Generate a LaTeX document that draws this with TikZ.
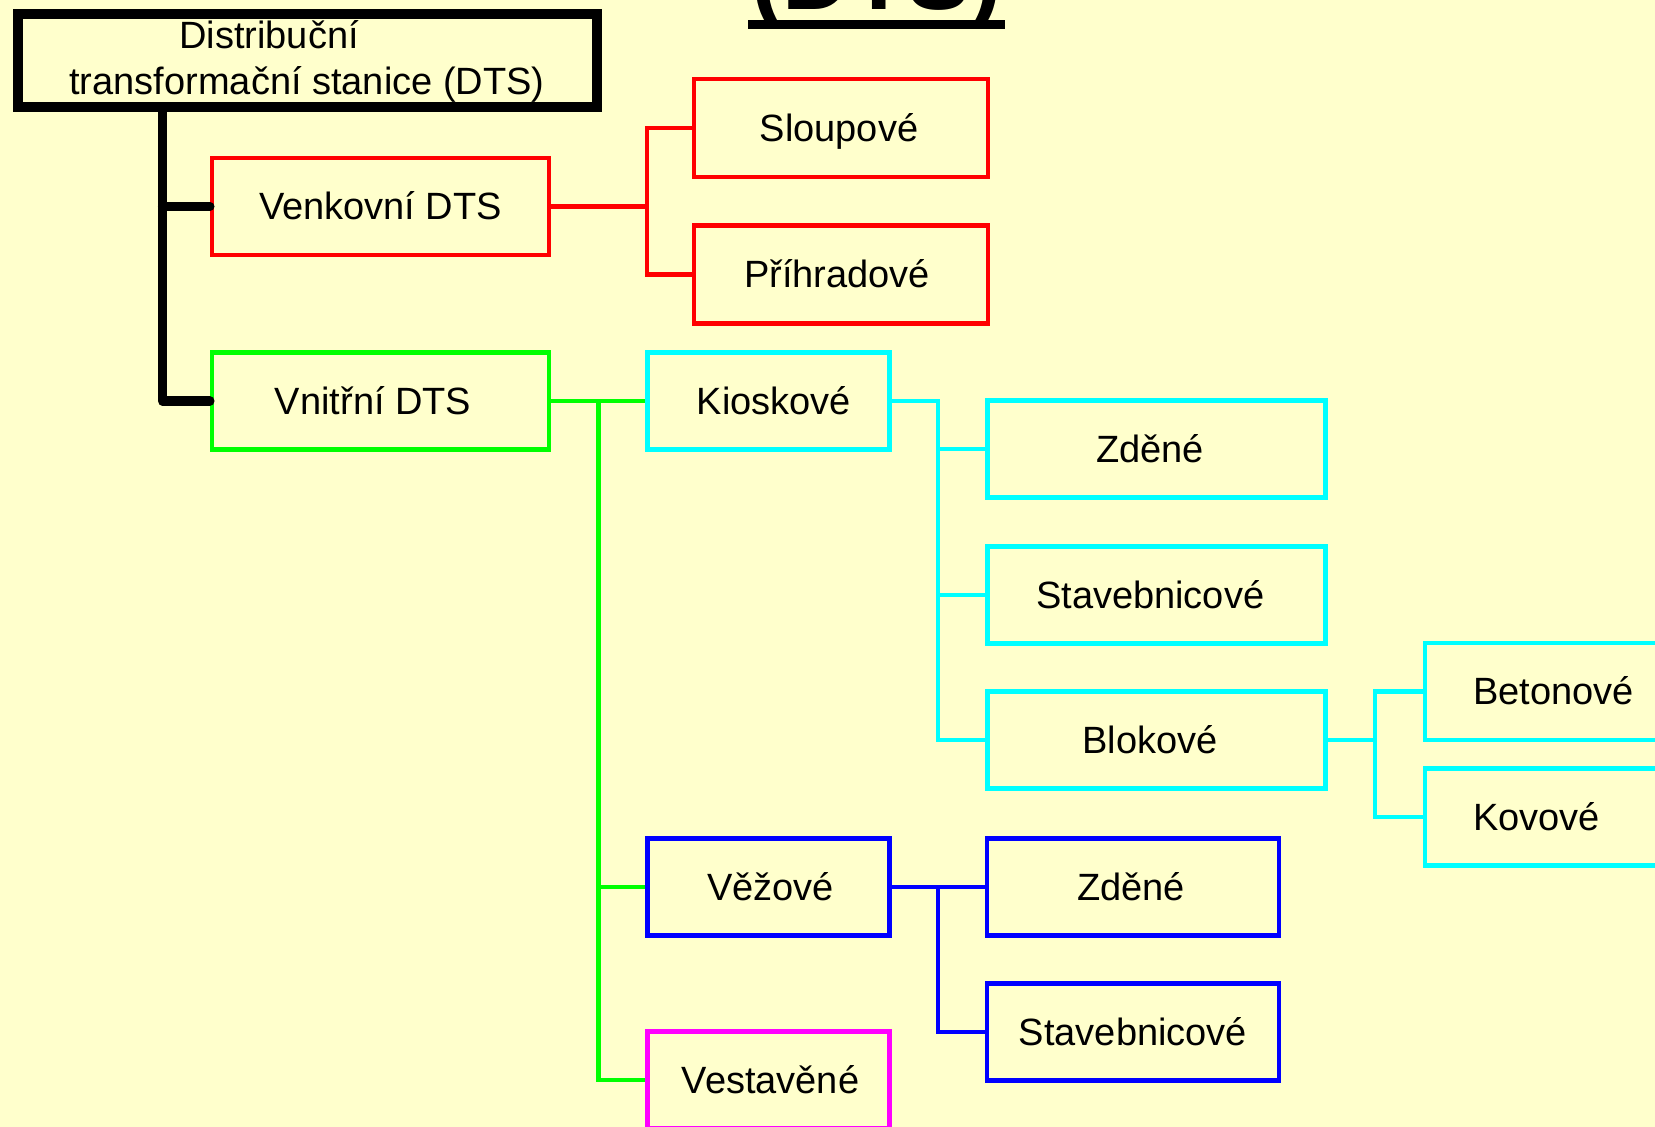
\documentclass[tikz,border=0pt]{standalone}
\usepackage{fontspec}
\setmainfont{Liberation Sans}
\definecolor{bgyellow}{RGB}{255,255,204}
\definecolor{cred}{RGB}{255,0,0}
\definecolor{cgreen}{RGB}{0,255,0}
\definecolor{ccyan}{RGB}{0,255,255}
\definecolor{cblue}{RGB}{0,0,255}
\definecolor{cmagenta}{RGB}{255,0,255}
\begin{document}
\begin{tikzpicture}[x=0.5pt,y=-0.5pt,
  lbl/.style={font=\fontsize{19}{23}\selectfont, inner sep=0pt, text=black},
  cbox/.style={lbl, draw, line width=2.1pt, minimum height=48.5pt, text height=13.1pt, text depth=0pt},
  rootbox/.style={lbl, draw=black, line width=5pt, minimum width=289.5pt, minimum height=46.5pt, align=center},
  conn/.style={line width=2.1pt},
  trunk/.style={draw=black, line width=4.6pt, line cap=round, line join=round}
]
\clip (0,0) rectangle (1655,1127);
\fill[bgyellow] (0,0) rectangle (1655,1127);

% cut-off title
\node[anchor=base, font=\fontsize{47}{50}\bfseries, inner sep=0pt] (title) at (876.5,10) {(DTS)};
\coordinate (ulA) at (748,24.5);
\coordinate (ulB) at (1005,24.5);
\draw[line width=4.5pt] (ulA) -- (ulB);

% nodes
\node[rootbox] (root) at (307,61) {Distribuční\hspace*{2em}\\transformační stanice (DTS)};
\node[cbox, draw=cred, minimum width=168.5pt] (ven) at (380.5,206.5) {Venkovní DTS};
\node[cbox, draw=cgreen, minimum width=168.5pt] (vni) at (380.5,401) {Vnitřní DTS\hspace*{7.4pt}};
\node[cbox, draw=cred, minimum width=147pt, minimum height=49pt] (slo) at (841,128) {Sloupové\hspace*{2pt}};
\node[cbox, draw=cred, minimum width=147pt, minimum height=49pt] (pri) at (841,274.5) {Příhradové\hspace*{4pt}};
\node[cbox, draw=ccyan, minimum width=121pt] (kio) at (768.5,401) {\hspace*{5.3pt}Kioskové};
\node[cbox, draw=cblue, minimum width=121pt] (vez) at (768.5,887) {\hspace*{2pt}Věžové};
\node[cbox, draw=cmagenta, minimum width=121pt] (ves) at (768.5,1080) {\hspace*{2pt}Vestavěné};
\node[cbox, draw=ccyan, minimum width=169pt] (zde) at (1156.5,449) {Zděné\hspace*{6.3pt}};
\node[cbox, draw=ccyan, minimum width=169pt] (sta) at (1156.5,595) {Stavebnicové\hspace*{6.3pt}};
\node[cbox, draw=ccyan, minimum width=169pt] (blo) at (1156.5,740) {Blokové\hspace*{6.3pt}};
\node[cbox, draw=ccyan, anchor=west, text width=120pt, align=left, inner xsep=24pt] (bet) at (1423,691.5) {Betonové};
\node[cbox, draw=ccyan, anchor=west, text width=120pt, align=left, inner xsep=24pt] (kov) at (1423,817) {Kovové};
\node[cbox, draw=cblue, minimum width=146pt] (zdb) at (1133,887) {Zděné\hspace*{2pt}};
\node[cbox, draw=cblue, minimum width=146pt] (stb) at (1133,1032) {Stavebnicové};

% junction coordinates
\coordinate (tj) at (162.5,109);
\coordinate (rj) at (647,206.5);
\coordinate (gj) at (598.5,401);
\coordinate (cj) at (938,401);
\coordinate (cj2) at (1375,740);
\coordinate (bj) at (938,887);

% black trunk
\draw[trunk] (tj) |- (vni.west);
\draw[trunk] (tj |- ven.west) -- (ven.west);

% red
\draw[conn, cred] (ven.east) -- (rj);
\draw[conn, cred] (slo.west) -| (rj) |- (pri.west);

% green
\draw[conn, cgreen] (vni.east) -- (kio.west);
\draw[conn, cgreen] (gj) |- (ves.west);
\draw[conn, cgreen] (gj |- vez.west) -- (vez.west);

% cyan
\draw[conn, ccyan] (kio.east) -- (cj) |- (blo.west);
\draw[conn, ccyan] (cj |- zde.west) -- (zde.west);
\draw[conn, ccyan] (cj |- sta.west) -- (sta.west);
\draw[conn, ccyan] (blo.east) -- (cj2);
\draw[conn, ccyan] (bet.west) -| (cj2) |- (kov.west);

% blue
\draw[conn, cblue] (vez.east) -- (zdb.west);
\draw[conn, cblue] (bj) |- (stb.west);
\end{tikzpicture}
\end{document}
